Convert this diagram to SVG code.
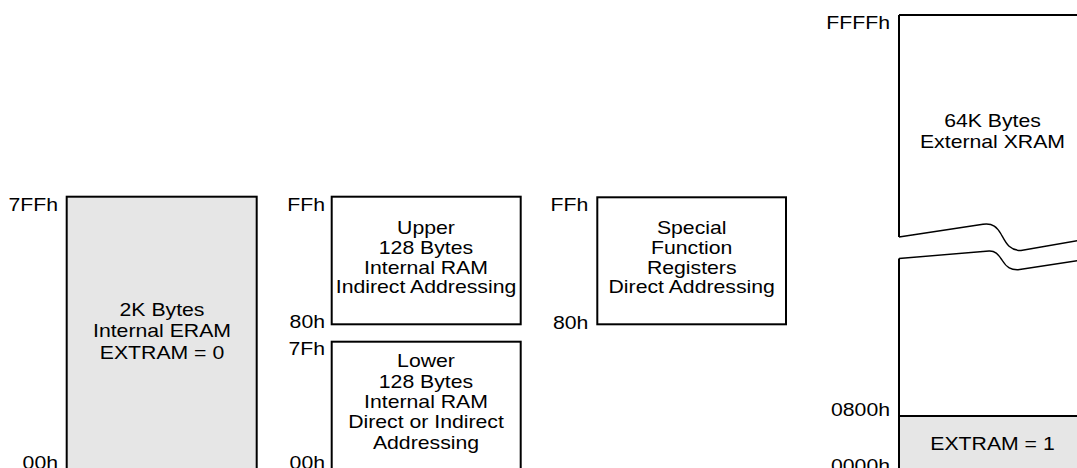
<svg xmlns="http://www.w3.org/2000/svg" width="1077" height="468" viewBox="0 0 1077 468">
<style>
  .t { font-family: "Liberation Sans", Arial, Helvetica, sans-serif; font-size: 18px; fill: #000; }
  .m { text-anchor: middle; }
  .e { text-anchor: end; }
  .box { stroke: #000; stroke-width: 2; }
  .white { fill: #fff; }
  .gray { fill: #e6e6e6; }
  .edge { fill: none; stroke: #000; stroke-width: 2; }
  .brk { fill: none; stroke: #000; stroke-width: 1.4; }
</style>
<rect width="1077" height="468" fill="#fff"/>

<g id="eram">
  <rect class="box gray" x="66.7" y="196.7" width="190" height="290"/>
  <text class="t e" transform="translate(58,210.5) scale(1.18,1)">7FFh</text>
  <text class="t e" transform="translate(58,468.5) scale(1.18,1)">00h</text>
  <text class="t m" transform="translate(162,316) scale(1.18,1)"><tspan x="0" y="0">2K Bytes</tspan><tspan x="0" y="21.5">Internal ERAM</tspan><tspan x="0" y="43">EXTRAM = 0</tspan></text>
</g>

<g id="upper-ram">
  <rect class="box white" x="331.7" y="196.7" width="189" height="127.6"/>
  <text class="t e" transform="translate(325,210.5) scale(1.18,1)">FFh</text>
  <text class="t e" transform="translate(325,328.3) scale(1.18,1)">80h</text>
  <text class="t m" transform="translate(426,234.3) scale(1.18,1)"><tspan x="0" y="0">Upper</tspan><tspan x="0" y="19.7">128 Bytes</tspan><tspan x="0" y="39.4">Internal RAM</tspan><tspan x="0" y="59">Indirect Addressing</tspan></text>
</g>

<g id="lower-ram">
  <rect class="box white" x="331.7" y="341.7" width="189" height="150"/>
  <text class="t e" transform="translate(325,355) scale(1.18,1)">7Fh</text>
  <text class="t e" transform="translate(325,469) scale(1.18,1)">00h</text>
  <text class="t m" transform="translate(426,367.3) scale(1.18,1)"><tspan x="0" y="0">Lower</tspan><tspan x="0" y="20.3">128 Bytes</tspan><tspan x="0" y="40.6">Internal RAM</tspan><tspan x="0" y="61">Direct or Indirect</tspan><tspan x="0" y="81.6">Addressing</tspan></text>
</g>

<g id="sfr">
  <rect class="box white" x="597.3" y="197.3" width="188.7" height="127"/>
  <text class="t e" transform="translate(588.3,210.5) scale(1.18,1)">FFh</text>
  <text class="t e" transform="translate(588.3,329) scale(1.18,1)">80h</text>
  <text class="t m" transform="translate(691.7,234.3) scale(1.18,1)"><tspan x="0" y="0">Special</tspan><tspan x="0" y="19.7">Function</tspan><tspan x="0" y="39.4">Registers</tspan><tspan x="0" y="59">Direct Addressing</tspan></text>
</g>

<g id="xram">
  <rect class="gray" x="899" y="416" width="190" height="60"/>
  <path class="edge" d="M899,15 H1085 M899,15 V237 M899,258.5 V475 M899,416 H1085"/>
  <path class="brk" d="M899,237 L983,224.3 C993,223 997,227 1001,234 C1006,243 1009,250.5 1021,250.5 L1080,240.2"/>
  <path class="brk" d="M899,258.5 L989,251 C995,250.7 998,254 1002,260 C1007,268 1011,270 1018,269.8 L1080,260.3"/>
  <text class="t e" transform="translate(890,29.3) scale(1.18,1)">FFFFh</text>
  <text class="t e" transform="translate(890,416) scale(1.18,1)">0800h</text>
  <text class="t e" transform="translate(890,472) scale(1.18,1)">0000h</text>
  <text class="t m" transform="translate(992.5,126.7) scale(1.18,1)"><tspan x="0" y="0">64K Bytes</tspan><tspan x="0" y="21.6">External XRAM</tspan></text>
  <text class="t m" transform="translate(992.5,450) scale(1.18,1)">EXTRAM = 1</text>
</g>
</svg>
